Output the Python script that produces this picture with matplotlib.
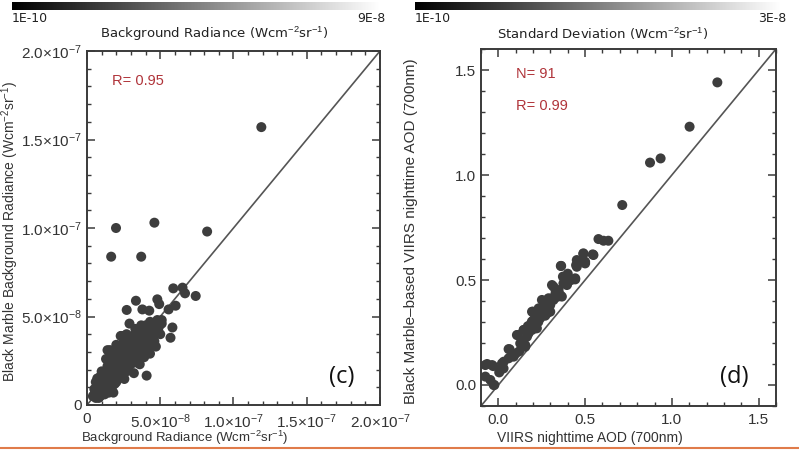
import numpy as np
import matplotlib
matplotlib.use("Agg")
import matplotlib.pyplot as plt
from matplotlib.ticker import MultipleLocator, FuncFormatter
from matplotlib.lines import Line2D

# panel (c): background radiance, units of 1e-8 W cm-2 sr-1
rad_x = [0.4, 0.5, 0.6, 0.7, 0.8, 0.9, 1.0, 1.1, 1.2, 1.3, 1.4, 1.5, 1.6, 0.6, 0.9, 1.8, 1.7,
         1.2, 1.4, 1.5, 1.7, 1.8, 1.9, 2.0, 2.1, 2.2, 2.3, 2.4, 2.5, 2.6, 2.7, 2.8, 2.9, 3.0,
         3.1, 3.2, 3.3, 3.4, 3.5, 3.6, 3.7, 3.8, 3.9, 4.0, 4.1, 4.2, 4.3, 4.4, 4.5, 4.6, 4.7,
         4.9, 5.0, 5.1, 1.4, 2.0, 2.3, 2.9, 3.3, 3.7, 4.3, 1.0, 1.3, 1.6, 1.9, 2.2, 2.5, 2.7,
         3.0, 3.4, 3.9, 4.8, 0.8, 1.1, 2.0, 2.6, 3.5, 4.2, 4.75, 5.1,
         0.5, 0.7, 0.9, 1.0, 1.2, 1.4, 1.5, 1.6, 1.8, 1.9, 2.0, 2.1, 2.2, 2.3, 2.4, 2.5,
         2.6, 2.7, 2.8, 2.9, 3.0, 3.1, 3.2, 3.3, 3.4, 3.5, 3.6, 3.7, 3.8, 3.9, 4.0, 4.1,
         4.2, 4.3, 4.4, 4.5, 4.6, 4.0, 3.6, 3.1, 2.6, 2.1, 1.6, 1.1, 0.7, 1.9, 2.4, 2.8,
         3.4, 3.9,
         5.83, 5.7, 2.37, 2.55, 4.07, 1.57, 2.71, 3.78, 4.25, 5.57, 3.34, 4.8, 4.93, 6.05,
         5.89, 6.52, 6.69, 7.42, 1.65, 3.7, 1.98, 4.6, 8.2, 11.9]
rad_y = [0.5, 0.9, 0.4, 0.7, 1.1, 0.5, 0.8, 1.3, 0.6, 1.0, 1.5, 0.7, 1.2, 1.3, 1.6, 0.7, 1.0,
         1.9, 2.2, 1.8, 2.5, 1.5, 2.0, 1.3, 2.3, 1.7, 2.7, 2.0, 3.0, 2.4, 1.9, 2.8, 3.4, 2.3,
         3.0, 1.8, 3.6, 2.7, 3.2, 2.3, 3.9, 2.9, 3.5, 4.1, 3.2, 3.8, 2.9, 4.3, 3.6, 4.0, 3.3,
         4.4, 4.0, 4.6, 3.1, 3.4, 3.9, 4.6, 4.3, 4.5, 4.7, 1.9, 2.6, 2.9, 2.8, 3.2, 3.6, 4.0,
         3.8, 4.0, 4.2, 4.8, 0.4, 0.9, 2.6, 3.3, 3.8, 4.5, 4.5, 4.8,
         0.6, 1.0, 1.2, 0.6, 1.4, 0.9, 1.3, 1.7, 2.2, 1.2, 2.0, 1.6, 2.5, 2.1, 2.7, 2.2,
         3.0, 2.5, 3.3, 2.6, 3.1, 2.5, 3.3, 2.9, 3.5, 2.8, 3.6, 3.1, 3.7, 3.0, 3.6, 4.0,
         3.3, 4.1, 3.5, 4.4, 3.6, 4.5, 4.2, 3.9, 3.4, 2.9, 2.4, 1.7, 1.5, 1.6, 1.8, 2.1,
         2.4, 2.7,
         4.38, 3.8, 3.9, 1.47, 1.66, 3.1, 5.37, 5.40, 5.33, 5.40, 5.89, 5.97, 5.7, 5.61,
         6.59, 6.63, 6.31, 6.16, 8.38, 8.38, 10.0, 10.3, 9.8, 15.7]

# panel (d): VIIRS nighttime AOD vs Black Marble-based AOD
aod_x = [-0.075, -0.065, -0.046, -0.036, -0.030, -0.027, -0.023, -0.075, 0.011, 0.021, 0.030,
         0.031, 0.059, 0.059, 0.065, 0.088, 0.088, 0.107, 0.111, 0.126, 0.136, 0.146, 0.146,
         0.155, 0.155, 0.165, 0.174, 0.184, 0.193, 0.193, 0.194, 0.199, 0.203, 0.213, 0.222,
         0.232, 0.241, 0.241, 0.251, 0.251, 0.280, 0.280, 0.289, 0.299, 0.299, 0.308, 0.309,
         0.318, 0.318, 0.347, 0.356, 0.360, 0.362, 0.366, 0.372, 0.375, 0.385, 0.395, 0.398,
         0.443, 0.443, 0.448, 0.452, 0.452, 0.471, 0.490, 0.490, 0.500, 0.500, 0.544, 0.548,
         0.577, 0.606, 0.634, 0.714, 0.874, 0.935, 1.102, 1.262, 0.170, 0.230, 0.265, 0.330,
         0.400, 0.120, 0.215, 0.270, 0.340, 0.420, 0.005, 0.100]
aod_y = [0.095, 0.100, 0.024, 0.095, 0.090, 0.000, 0.000, 0.040, 0.071, 0.103, 0.079,
         0.111, 0.127, 0.171, 0.170, 0.143, 0.135, 0.238, 0.238, 0.198, 0.214, 0.262, 0.262,
         0.190, 0.182, 0.230, 0.246, 0.286, 0.302, 0.262, 0.349, 0.349, 0.310, 0.270, 0.270,
         0.365, 0.325, 0.318, 0.405, 0.365, 0.373, 0.341, 0.413, 0.349, 0.381, 0.413, 0.476,
         0.468, 0.405, 0.452, 0.429, 0.567, 0.567, 0.421, 0.516, 0.484, 0.516, 0.476, 0.484,
         0.508, 0.503, 0.571, 0.595, 0.563, 0.587, 0.627, 0.624, 0.587, 0.579, 0.622, 0.619,
         0.695, 0.687, 0.687, 0.857, 1.059, 1.079, 1.230, 1.441, 0.280, 0.300, 0.390, 0.440,
         0.530, 0.160, 0.290, 0.330, 0.420, 0.500, 0.060, 0.150]

dot_col = "#3d3d3d"
frame_col = "#3a3a3a"
red = "#b0343a"
axfont = "Liberation Sans"

plt.rcParams["mathtext.fontset"] = "custom"
plt.rcParams["mathtext.rm"] = axfont
plt.rcParams["mathtext.it"] = axfont + ":italic"
plt.rcParams["mathtext.bf"] = axfont + ":bold"

fig = plt.figure(figsize=(7.99, 4.5), dpi=100)


def sci_fmt(v, pos):
    if abs(v) < 1e-12:
        return "0"
    e = int(np.floor(np.log10(abs(v))))
    m = v / 10 ** e
    return r"%.1f$\mathregular{\times 10^{%d}}$" % (m, e)


def style_axes(ax, size):
    for s in ax.spines.values():
        s.set_color(frame_col)
        s.set_linewidth(1.4)
    ax.tick_params(which="both", direction="in", top=True, right=True, color=frame_col,
                   labelcolor="#333333", labelsize=size)
    ax.tick_params(which="major", length=6, width=1.1)
    ax.tick_params(which="minor", length=3, width=1.0)
    ax.tick_params(axis="x", which="major", pad=5)
    for lab in ax.get_xticklabels() + ax.get_yticklabels():
        lab.set_family(axfont)


# colorbars across the top
grad = np.linspace(0, 1, 256).reshape(1, -1)
for x0, x1, hi in [(12, 380, "9E-8"), (415, 780, "3E-8")]:
    cax = fig.add_axes([x0 / 799, 1 - 10 / 450, (x1 - x0) / 799, 8 / 450])
    cax.imshow(grad, aspect="auto", cmap="gray")
    cax.set_axis_off()
    fig.text(x0 / 799, 1 - 18 / 450, "1E-10", fontsize=9, va="center", ha="left", color="#222")
    fig.text((x1 + 6) / 799, 1 - 18 / 450, hi, fontsize=9, va="center", ha="right", color="#222")

fig.text(214 / 799, 1 - 34 / 450, r"Background Radiance (Wcm$^{-2}$sr$^{-1}$)",
         fontsize=9.5, ha="center", va="center", color="#222")
fig.text(603 / 799, 1 - 34 / 450, r"Standard Deviation (Wcm$^{-2}$sr$^{-1}$)",
         fontsize=9.5, ha="center", va="center", color="#222")

# panel (c)
ax1 = fig.add_axes([87 / 799, 1 - 405 / 450, 293 / 799, 354 / 450])
ax1.plot([0, 2e-7], [0, 2e-7], color="#555555", lw=1.2, zorder=1)
ax1.scatter(np.array(rad_x) * 1e-8, np.array(rad_y) * 1e-8, s=52, color=dot_col,
            edgecolors="none", zorder=2)
ax1.set_xlim(0, 2e-7)
ax1.set_ylim(0, 2e-7)
ax1.xaxis.set_major_locator(MultipleLocator(5e-8))
ax1.xaxis.set_minor_locator(MultipleLocator(1e-8))
ax1.yaxis.set_major_locator(MultipleLocator(5e-8))
ax1.yaxis.set_minor_locator(MultipleLocator(1e-8))
ax1.xaxis.set_major_formatter(FuncFormatter(sci_fmt))
ax1.yaxis.set_major_formatter(FuncFormatter(sci_fmt))
style_axes(ax1, 11)
ax1.set_xlabel(r"Background Radiance (Wcm$^{-2}$sr$^{-1}$)", family=axfont, fontsize=9.5,
               color="#333333")
ax1.set_ylabel(r"Black Marble Background Radiance (Wcm$^{-2}$sr$^{-1}$)", family=axfont,
               fontsize=10, color="#333333")
ax1.xaxis.set_label_coords((185 - 87) / 293, -(429 - 405) / 354)
ax1.yaxis.set_label_coords(-(87 - 21) / 293, 0.49)
ax1.text(0.085, 0.915, "R= 0.95", transform=ax1.transAxes, color=red, fontsize=10.5,
         family=axfont, va="center")
ax1.text(0.87, 0.08, "(c)", transform=ax1.transAxes, fontsize=17, family="Open Sans",
         ha="center", va="center", color="#111")

# panel (d)
ax2 = fig.add_axes([481 / 799, 1 - 406 / 450, 295 / 799, 357 / 450])
ax2.plot([-0.1, 1.6], [-0.1, 1.6], color="#555555", lw=1.2, zorder=1)
ax2.scatter(aod_x, aod_y, s=52, color=dot_col, edgecolors="none", zorder=2)
ax2.set_xlim(-0.1, 1.6)
ax2.set_ylim(-0.1, 1.6)
ax2.xaxis.set_major_locator(MultipleLocator(0.5))
ax2.xaxis.set_minor_locator(MultipleLocator(0.1))
ax2.yaxis.set_major_locator(MultipleLocator(0.5))
ax2.yaxis.set_minor_locator(MultipleLocator(0.1))
ax2.xaxis.set_major_formatter(FuncFormatter(lambda v, p: "%.1f" % v))
ax2.yaxis.set_major_formatter(FuncFormatter(lambda v, p: "%.1f" % v))
style_axes(ax2, 11)
ax2.set_xlabel("VIIRS nighttime AOD (700nm)", family=axfont, fontsize=10,
               color="#333333")
ax2.set_ylabel("Black Marble\u2013based VIIRS nighttime AOD (700nm)", family=axfont,
               fontsize=11, color="#333333")
ax2.xaxis.set_label_coords((590 - 481) / 295, -(431 - 406) / 357)
ax2.yaxis.set_label_coords(-(481 - 418) / 295, 0.49)
ax2.text(0.12, 0.93, "N= 91", transform=ax2.transAxes, color=red, fontsize=10.5,
         family=axfont, va="center")
ax2.text(0.12, 0.84, "R= 0.99", transform=ax2.transAxes, color=red, fontsize=10.5,
         family=axfont, va="center")
ax2.text(0.86, 0.08, "(d)", transform=ax2.transAxes, fontsize=17, family="Open Sans",
         ha="center", va="center", color="#111")

# thin orange rule at the bottom edge of the slide
fig.add_artist(Line2D([0, 1], [1 - 448 / 450, 1 - 448 / 450], transform=fig.transFigure,
                      color="#e07b4a", lw=1.5))

fig.savefig("out.png", dpi=100)
